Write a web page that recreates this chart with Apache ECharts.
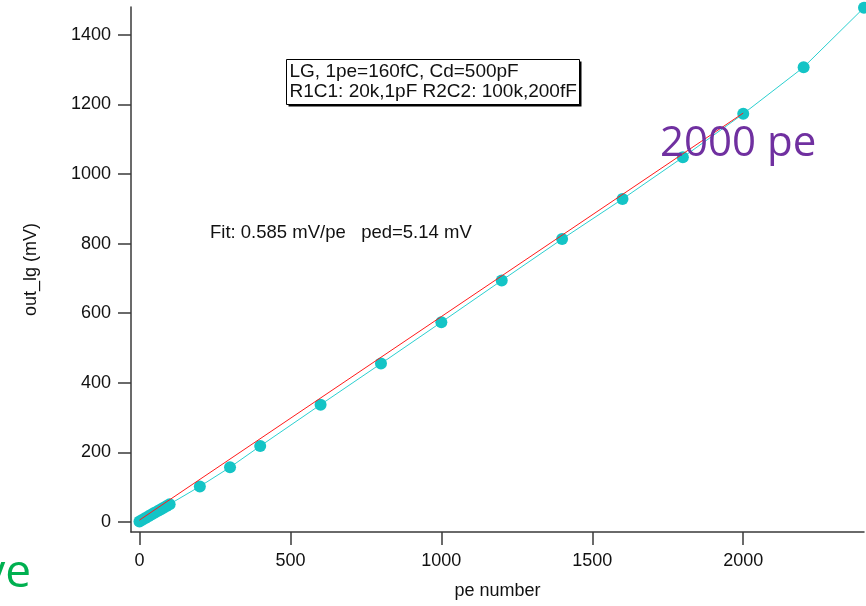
<!DOCTYPE html>
<html>
<head>
<meta charset="utf-8">
<script src="https://cdn.jsdelivr.net/npm/echarts@6/dist/echarts.min.js"></script>
<style>
  html, body { margin: 0; padding: 0; background: #fff; }
  #chart { width: 866px; height: 606px; }
</style>
</head>
<body>
<div id="chart"></div>
<script>
// Measured output amplitude vs. injected photo-electrons (LG channel)
const peNumber = [0, 10, 20, 30, 40, 50, 60, 70, 80, 90, 100,
                  200, 300, 400, 600, 800, 1000, 1200, 1400, 1600, 1800, 2000, 2200, 2400];
const outLg    = [1, 6, 11, 16, 21, 26, 31, 36, 41, 46, 51,
                  102, 157, 218, 337, 455, 574, 694, 813, 928, 1048, 1173, 1307, 1478];

// Linear fit quoted on the plot
const FIT_SLOPE = 0.585;   // mV/pe
const FIT_PED = 5.14;      // mV
const fitRange = [0, 2000];

const xTicks = [0, 500, 1000, 1500, 2000];
const yTicks = [0, 200, 400, 600, 800, 1000, 1200, 1400];

const FONT = '"Liberation Sans", Arial, sans-serif';
const AXIS_COLOR = '#3a3a3a';

const chart = echarts.init(document.getElementById('chart'), null, { renderer: 'canvas' });

const measured = peNumber.map((x, i) => [x, outLg[i]]);
const fitLine = fitRange.map(x => [x, FIT_PED + FIT_SLOPE * x]);

function axisCommon(ticks) {
  return {
    type: 'value',
    axisLine: { show: true, onZero: false, lineStyle: { color: AXIS_COLOR, width: 1.5 } },
    axisTick: { show: true, inside: false, length: 13, customValues: ticks,
                lineStyle: { color: AXIS_COLOR, width: 1.5 } },
    axisLabel: { customValues: ticks, color: '#111', fontSize: 18, fontFamily: FONT,
                 formatter: v => String(v) },
    splitLine: { show: false },
    nameTextStyle: { color: '#111', fontSize: 18, fontFamily: FONT }
  };
}

const xAxis = axisCommon(xTicks);
Object.assign(xAxis, {
  min: -28, max: 2400,
  name: 'pe number', nameLocation: 'middle', nameGap: 50
});
xAxis.axisLabel.margin = 20;

const yAxis = axisCommon(yTicks);
Object.assign(yAxis, {
  min: -29, max: 1480,
  name: 'out_lg (mV)', nameLocation: 'middle', nameGap: 91
});
yAxis.axisLabel.margin = 20;

chart.setOption({
  animation: false,
  backgroundColor: '#fff',
  grid: { left: 131, right: 2, top: 7, bottom: 74, containLabel: false },
  xAxis: xAxis,
  yAxis: yAxis,
  series: [
    {
      name: 'out_lg',
      type: 'line',
      data: measured,
      symbol: 'circle',
      symbolSize: 12,
      clip: false,
      lineStyle: { color: '#2bd0d0', width: 1 },
      itemStyle: { color: '#14c4c6' },
      z: 2
    },
    {
      name: 'fit',
      type: 'line',
      data: fitLine,
      symbol: 'none',
      lineStyle: { color: '#ff1a1a', width: 1 },
      z: 3
    }
  ],
  graphic: [
    {
      type: 'group',
      left: 286, top: 59,
      children: [
        { type: 'rect', shape: { x: 2, y: 2, width: 293, height: 45 },
          style: { fill: '#000' } },
        { type: 'rect', shape: { x: 0, y: 0, width: 293, height: 45 },
          style: { fill: '#fff', stroke: '#000', lineWidth: 1 } },
        { type: 'text', x: 3, y: 3,
          style: { text: 'LG, 1pe=160fC, Cd=500pF', fill: '#111', fontSize: 19, fontFamily: FONT } },
        { type: 'text', x: 3, y: 23,
          style: { text: 'R1C1: 20k,1pF R2C2: 100k,200fF', fill: '#111', fontSize: 19, fontFamily: FONT } }
      ]
    },
    {
      type: 'text', x: 210, y: 223,
      style: { text: 'Fit: 0.585 mV/pe   ped=5.14 mV', fill: '#111', fontSize: 18.5, fontFamily: FONT }
    },
    {
      type: 'text', x: 660, y: 123, z: 10,
      style: { text: '2000 pe', fill: '#7030a0', fontSize: 42, fontFamily: '"Open Sans", sans-serif' }
    },
    {
      type: 'text', x: 31, y: 551, z: 10,
      style: { text: 've', fill: '#00b050', fontSize: 46, fontFamily: '"Open Sans", sans-serif',
               align: 'right' }
    }
  ]
});
</script>
</body>
</html>
